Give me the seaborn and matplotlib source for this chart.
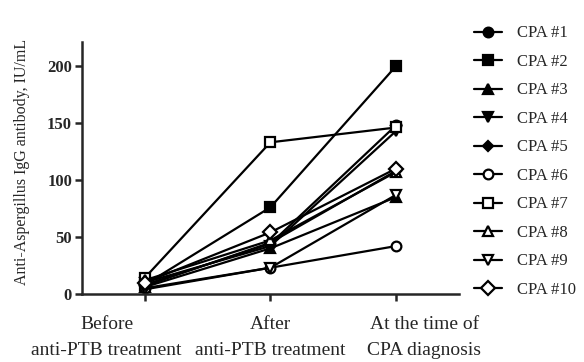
import seaborn as sns
from matplotlib import pyplot as plt
from matplotlib import transforms

# time points and per-patient antibody titres (IU/mL)
timepoints = ["Before\nanti-PTB treatment", "After\nanti-PTB treatment", "At the time of\nCPA diagnosis"]
patients = ["CPA #1", "CPA #2", "CPA #3", "CPA #4", "CPA #5",
            "CPA #6", "CPA #7", "CPA #8", "CPA #9", "CPA #10"]
cpa1 = [8, 44, 148]
cpa2 = [8, 76, 200]
cpa3 = [6, 40, 85]
cpa4 = [10, 42, 143]
cpa5 = [7, 45, 108]
cpa6 = [5, 23, 42]
cpa7 = [14, 133, 146]
cpa8 = [12, 47, 107]
cpa9 = [4, 23, 87]
cpa10 = [10, 54, 110]
series = [cpa1, cpa2, cpa3, cpa4, cpa5, cpa6, cpa7, cpa8, cpa9, cpa10]

markers = ["o", "s", "^", "v", "D", "o", "s", "^", "v", "D"]
sizes = [7, 7, 7, 7, 5, 7, 7, 7, 7, 7]
facecolors = ["black"] * 5 + ["white"] * 5

sns.set_style("ticks")
plt.rcParams["font.family"] = ["Liberation Serif", "DejaVu Serif"]

fig = plt.figure(figsize=(5.84, 3.62), dpi=100)
ax = fig.add_axes([0.140, 0.188, 0.646, 0.696])

for name, vals, m, ms, fc in zip(patients, series, markers, sizes, facecolors):
    sns.lineplot(x=timepoints, y=vals, ax=ax, color="black", linewidth=1.6,
                 marker=m, markersize=ms, markerfacecolor=fc,
                 markeredgecolor="black", markeredgewidth=1.6,
                 label=name, sort=False)

ax.set_xlim(-0.5, 2.5)
ax.set_ylim(0, 221)
ax.set_yticks([0, 50, 100, 150, 200])
ax.set_ylabel("Anti-Aspergillus IgG antibody, IU/mL", fontsize=11.5)
ax.yaxis.set_label_coords(-0.138, 0.525)
ax.set_xlabel("")
ax.tick_params(axis="x", labelsize=14, length=5, width=1.8, pad=11)
ax.tick_params(axis="y", labelsize=12, length=5, width=1.8, pad=2)
for lab in ax.get_yticklabels():
    lab.set_fontweight("bold")
# outer category labels sit off their ticks so the long lines don't collide
shifts = [-0.38, 0.0, 0.28]
for lab, dx in zip(ax.get_xticklabels(), shifts):
    lab.set_linespacing(1.7)
    lab.set_transform(lab.get_transform() + transforms.ScaledTranslation(dx, 0, fig.dpi_scale_trans))
for side in ["left", "bottom"]:
    ax.spines[side].set_linewidth(1.8)
sns.despine(ax=ax)

ax.legend(loc="upper left", bbox_to_anchor=(1.0, 1.125), frameon=False,
          fontsize=12, handlelength=1.7, labelspacing=0.75, handletextpad=0.9)

fig.savefig("out.png", dpi=100)
